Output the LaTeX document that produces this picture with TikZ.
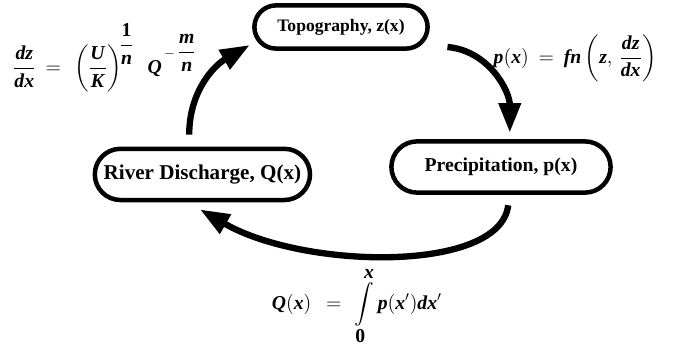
\documentclass[tikz,border=0pt]{standalone}
\usepackage{amsmath,amssymb}
\usepackage{fontspec}
\setmainfont{Liberation Serif}
\usepackage{tikz}
\usetikzlibrary{arrows.meta,positioning}

\newcommand{\bi}[1]{\textbf{\textit{#1}}}

\begin{document}
\begin{tikzpicture}[
    box/.style={draw, line width=3.2pt, inner sep=0pt},
    flow/.style={line width=4.5pt, -{Triangle[length=21pt,width=15pt]}},
    eq/.style={inner sep=0pt, font=\fontsize{14}{16}\selectfont}
]
\useasboundingbox (0,0) rectangle (16.925,-8.8);

\node[box, rounded corners=0.54cm, minimum width=4.33cm, minimum height=1.08cm,
      font=\bfseries\fontsize{12.5}{14}\selectfont] (T) at (8.525,-0.675) {Topography, z(x)};
\node[box, rounded corners=0.64cm, minimum width=5.48cm, minimum height=1.28cm,
      font=\bfseries\fontsize{14}{16}\selectfont] (P) at (12.525,-4.175) {Precipitation, p(x)};
\node[box, rounded corners=0.64cm, minimum width=5.38cm, minimum height=1.28cm,
      font=\bfseries\fontsize{15}{17}\selectfont] (R) at (5.06,-4.36) {River Discharge, Q(x)};

\node[eq] (EqT) at (2.62,-1.45)
  {$\dfrac{\bi{dz}}{\bi{dx}}\ \ \mathbf{=}\ \ \left(\dfrac{\bi{U}}{\bi{K}}\right)^{\!\dfrac{\mathbf{1}}{\bi{n}}}\ \ \bi{Q}^{\,-\,\dfrac{\bi{m}}{\bi{n}}}$};
\node[eq] (EqP) at (14.38,-1.45)
  {$\bi{p}(\bi{x})\ \ \mathbf{=}\ \ \bi{fn}\left(\bi{z},\,\dfrac{\bi{dz}}{\bi{dx}}\right)$};
\node[eq] (EqR) at (8.92,-7.66)
  {$\bi{Q}(\bi{x})\ \ \ \mathbf{=}\ \ \displaystyle\int\limits_{\textstyle\mathbf{0}}^{\textstyle\bi{x}}\bi{p}(\bi{x}')\bi{dx}'$};

\draw[flow] ([shift={(-0.33,0.3)}]R.north) to[out=90,in=210] ([shift={(-0.06,-0.45)}]T.west);
\draw[flow] ([shift={(0.44,-0.5)}]T.east) to[out=-5,in=90] ([shift={(0.22,0.16)}]P.north);
\draw[flow] ([shift={(0.18,-0.26)}]P.south) .. controls +(-0.2,-1.7) and +(2.6,-1.5) .. ([shift={(-0.06,-0.18)}]R.south);

\end{tikzpicture}
\end{document}
